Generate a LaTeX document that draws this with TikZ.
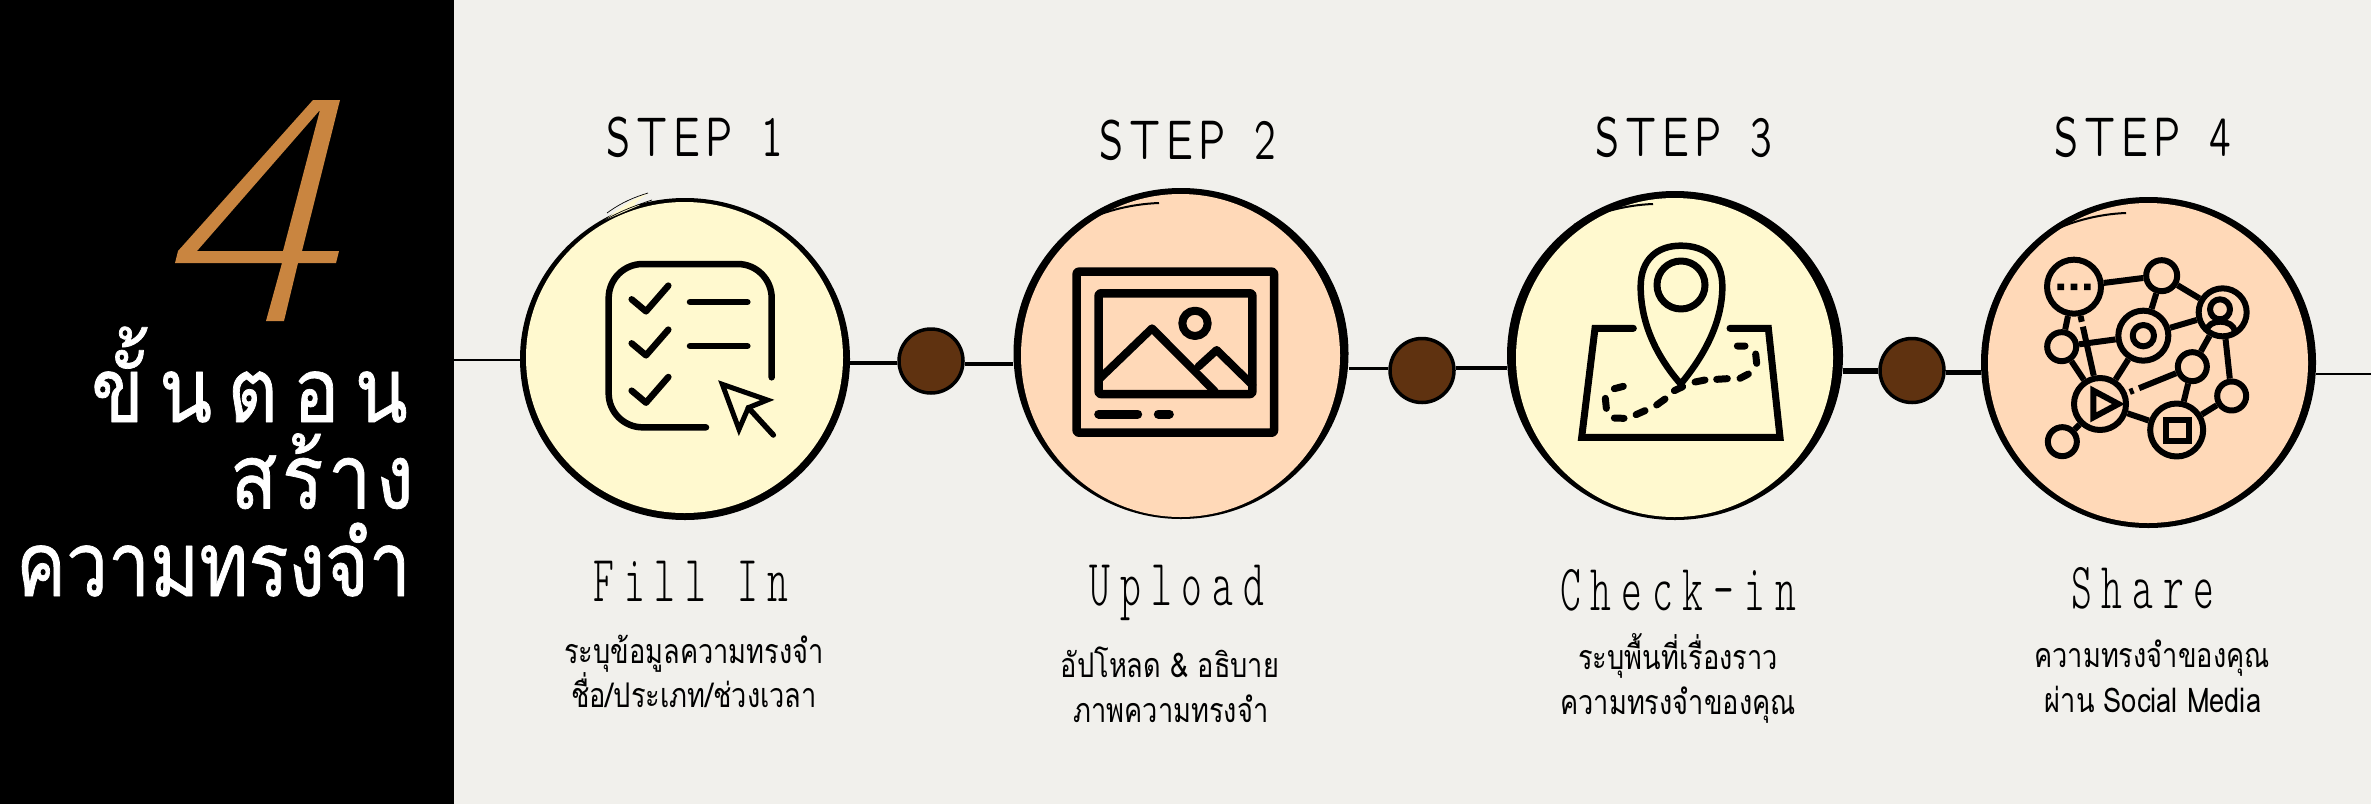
\documentclass[tikz,border=0pt]{standalone}
\usepackage{fontspec}
\usetikzlibrary{positioning,shapes.geometric}
\setmainfont{Liberation Sans}
\newfontfamily\thaifont[Script=Thai,FakeStretch=0.8]{Loma}
\newfontfamily\headfont[Script=Thai,FakeStretch=0.83,FakeBold=0.8]{Loma}
\newfontfamily\headmid[Script=Thai,FakeStretch=0.86,LetterSpace=5,FakeBold=0.8]{Loma}
\newfontfamily\headwide[Script=Thai,FakeStretch=0.86,LetterSpace=17,FakeBold=0.8]{Loma}
\newfontfamily\namefont[FakeStretch=0.6,LetterSpace=15]{lmmonolt10-regular.otf}
\newfontfamily\stepfont[FakeStretch=0.62,LetterSpace=10,WordSpace=1.4]{lmsansquot8-regular.otf}
\definecolor{panelbg}{HTML}{F1F0EC}
\definecolor{fourc}{HTML}{C98540}
\definecolor{creamc}{HTML}{FFF9CF}
\definecolor{peachc}{HTML}{FFD9B8}
\definecolor{dotc}{HTML}{5F3210}
\tikzset{
	rimblob/.style={ellipse,fill=black,inner sep=0pt},
	stepdot/.style={circle,fill=dotc,draw=black,line width=3.5pt,inner sep=0pt,minimum size=64pt},
	steptitle/.style={anchor=base,inner sep=0pt,font=\fontsize{56}{56}\stepfont},
	stepname/.style={anchor=base,inner sep=0pt,font=\fontsize{66}{66}\namefont},
	stepnote/.style={anchor=base,inner sep=0pt,font=\fontsize{34}{34}\thaifont},
	headline/.style={anchor=base east,inner sep=0pt,text=white,font=\fontsize{90}{90}\headfont},
	icon/.style={line width=6.5pt,line cap=round,line join=round},
	netnode/.style={circle,draw=black,line width=6pt,inner sep=0pt},
}
\begin{document}
\begin{tikzpicture}[x=1pt,y=-1pt,line join=round]
	\useasboundingbox (0,0) rectangle (2371,804);
	\fill[panelbg] (0,0) rectangle (2371,804);
	\fill[black] (0,0) rectangle (454,804);
	% big four
	\fill[fourc,even odd rule] (313,100)--(178,251)--(175,263)--(282,263)--(266,321)--(284,321)--(298,263)--(336,263)--(339,251)--(302,251)--(340,100)--cycle
		(320,110)--(197,251)--(283,251)--cycle;
	\node[headline,font=\fontsize{90}{90}\headwide] (head1) at (408,422) {ขั้นตอน};
	\node[headline,font=\fontsize{90}{90}\headmid] (head2) at (414,508.5) {สร้าง};
	\node[headline] (head3) at (411,596) {ความทรงจำ};
	% rims and dots
	\node[rimblob,minimum width=330pt,minimum height=322pt] (rim1) at (685,359) {};
	\node[rimblob,minimum width=335pt,minimum height=331pt] (rim2) at (1181,353.5) {};
	\node[rimblob,minimum width=336pt,minimum height=329pt] (rim3) at (1675,355.5) {};
	\node[rimblob,minimum width=335pt,minimum height=331pt] (rim4) at (2148.5,362.5) {};
	\node[stepdot] (dot1) at (931,361) {};
	\node[stepdot] (dot2) at (1422,370.5) {};
	\node[stepdot] (dot3) at (1912,370.5) {};
	\coordinate (lineL) at (454,360);
	\coordinate (lineR) at (2371,374);
	\draw[line width=2pt] (lineL)--(lineL -| rim1.west);
	\coordinate (wire1) at (0,363);
	\coordinate (wire2) at (0,364);
	\coordinate (wire3) at (0,368);
	\coordinate (wire4) at (0,368);
	\coordinate (wire5) at (0,371);
	\coordinate (wire6) at (0,372);
	\draw[line width=3.5pt] (wire1 -| rim1.east)--(wire1 -| dot1.west);
	\draw[line width=3.5pt] (wire2 -| dot1.east)--(wire2 -| rim2.west);
	\draw[line width=3pt] (wire3 -| rim2.east)--(wire3 -| dot2.west);
	\draw[line width=4pt] (wire4 -| dot2.east)--(wire4 -| rim3.west);
	\draw[line width=5.5pt] (wire5 -| rim3.east)--(wire5 -| dot3.west);
	\draw[line width=5pt] (wire6 -| dot3.east)--(wire6 -| rim4.west);
	\draw[line width=2pt] (lineR -| rim4.east)--(lineR);
	% discs
	\node[ellipse,fill=creamc,inner sep=0pt,minimum width=317pt,minimum height=311pt] (disc1) at (684.5,357.5) {};
	\node[ellipse,fill=peachc,inner sep=0pt,minimum width=319pt,minimum height=323pt] (disc2) at (1180.5,355.5) {};
	\node[ellipse,fill=creamc,inner sep=0pt,minimum width=317pt,minimum height=319pt] (disc3) at (1674.5,357.5) {};
	\node[ellipse,fill=peachc,inner sep=0pt,minimum width=320pt,minimum height=320pt] (disc4) at (2148,363) {};
	% sketch strokes
	\fill[creamc] (605,220) .. controls (620,208) and (635,198) .. (648,193) .. controls (635,203) and (630,206) .. (640,205) -- cycle;
	\draw[line width=0.7pt] (605,220) .. controls (622,210) and (640,204) .. (652,200);
	\draw[line width=0.7pt] (607,213) .. controls (622,202) and (635,197) .. (648,193);
	\draw[line width=2pt] (1079,224) .. controls (1100,212) and (1130,204) .. (1159,203);
	\draw[line width=2pt] (1574,225) .. controls (1595,213) and (1625,205) .. (1653,204);
	\draw[line width=2pt] (2047,234) .. controls (2068,222) and (2098,214) .. (2126,213);
	% fill in icon
	\begin{scope}[shift={(500,170)},scale=1/3,icon]
		\draw[rounded corners=34pt] (815,622)--(815,282)--(326,282)--(326,772)--(618,772);
		\foreach \yy in {0,132,274}
			\draw (395,388+\yy)--(438,424+\yy)--(505,347+\yy);
		\draw (570,396)--(742,396);
		\draw (570,528)--(742,528);
		\draw[line join=miter,line width=5pt] (667,643)--(802,690)--(745,713)--(717,778)--cycle;
		\draw[line width=5.5pt] (745,713)--(820,795);
	\end{scope}
	% upload icon
	\begin{scope}[shift={(1000,170)},scale=1/3,icon,line width=8.5pt]
		\draw[rounded corners=2pt] (230,305) rectangle (822,788);
		\draw[rounded corners=2pt] (296,370) rectangle (757,672);
		\draw[line width=8pt] (585,460) circle (38);
		\draw[line width=8pt] (300,625)--(456,475)--(645,665);
		\draw[line width=8pt] (595,590)--(650,540)--(757,645);
		\draw[line width=9pt] (296,732)--(413,732);
		\draw[line width=9pt] (475,732)--(508,732);
	\end{scope}
	% check-in icon
	\begin{scope}[shift={(1490,200)},scale=1/3,icon]
		\draw (572,552) .. controls (500,470) and (452,370) .. (452,260) .. controls (452,180) and (500,137) .. (572,137) .. controls (650,137) and (697,180) .. (697,260) .. controls (697,370) and (640,470) .. (572,552);
		\draw[line width=7pt] (573,255) circle (72);
		\draw[line width=7pt,line join=miter] (430,385)--(315,385)--(275,712)--(870,712)--(835,385)--(720,385);
		\draw[line width=7pt] (742,438)--(765,438) (797,462)--(800,490) (750,535)--(775,522) (680,538)--(712,536) (615,546)--(645,540) (553,572)--(578,560) (500,615)--(525,597) (438,644)--(465,632) (373,654)--(402,655) (346,595)--(349,625) (373,566)--(400,559);
	\end{scope}
	% share icon
	\begin{scope}[shift={(1950,190)},scale=1/3]
		\node[netnode,minimum size=54pt] (netA) at (372,290) {};
		\node[netnode,minimum size=31pt] (netB) at (635,257) {};
		\node[netnode,minimum size=48pt] (netC) at (818,367) {};
		\node[netnode,minimum size=50pt] (netD) at (580,437) {};
		\node[netnode,minimum size=29pt] (netE) at (335,470) {};
		\node[netnode,minimum size=29pt] (netF) at (727,530) {};
		\node[netnode,minimum size=29pt] (netG) at (845,618) {};
		\node[netnode,minimum size=52pt] (netH) at (450,642) {};
		\node[netnode,minimum size=53pt] (netI) at (680,720) {};
		\node[netnode,minimum size=29pt] (netJ) at (337,755) {};
		\begin{scope}[line width=6pt]
			\draw (netA)--(netB);
			\draw (netB)--(netD);
			\draw (netB)--(netC);
			\draw (netD)--(netC);
			\draw (netD)--(netE);
			\draw (netA)--(netE);
			\draw (netD)--(netH);
			\draw (netE)--(netH);
			\draw (netH)--(netJ);
			\draw (netH)--(netI);
			\draw (netF)--(netI);
			\draw (netF)--(netC);
			\draw (netC)--(netG);
			\draw (netG)--(netI);
			\draw[dash pattern=on 6pt off 5pt on 60pt] (netA)--(netH);
			\draw[dash pattern=on 40pt off 6pt on 4pt off 6pt on 6pt] (netF)--(netH);
		\end{scope}
		\fill (322,281) rectangle (342,300) (362,281) rectangle (382,300) (402,281) rectangle (422,300);
		\draw[line width=6pt] (580,437) circle (32);
		\draw[line width=6pt] (810,358) circle (30);
		\draw[line width=6pt] (770,425) .. controls (770,385) and (850,385) .. (855,425);
		\draw[line width=6pt,line join=miter] (430,602)--(430,682)--(505,642)--cycle;
		\draw[line width=6pt,line join=miter] (648,690) rectangle (716,752);
	\end{scope}
	% labels
	\node[steptitle] (step1) at (695,156) {STEP 1};
	\node[steptitle] (step2) at (1188,159) {STEP 2};
	\node[steptitle] (step3) at (1684,156) {STEP 3};
	\node[steptitle] (step4) at (2143,156) {STEP 4};
	\node[stepname] (name1) at (691,601) {Fill In};
	\node[stepname] (name2) at (1177,605) {Upload};
	\node[stepname] (name3) at (1678,610) {Check-in};
	\node[stepname] (name4) at (2143,608) {Share};
	\node[stepnote] (note1a) at (694,663) {ระบุข้อมูลความทรงจำ};
	\node[stepnote] (note1b) at (694,707) {ชื่อ/ประเภท/ช่วงเวลา};
	\node[stepnote] (note2a) at (1170,677) {อัปโหลด \& อธิบาย};
	\node[stepnote] (note2b) at (1171,722) {ภาพความทรงจำ};
	\node[stepnote] (note3a) at (1678,669) {ระบุพื้นที่เรื่องราว};
	\node[stepnote] (note3b) at (1678,714) {ความทรงจำของคุณ};
	\node[stepnote] (note4a) at (2152,667) {ความทรงจำของคุณ};
	\node[stepnote] (note4b) at (2153,712) {ผ่าน Social Media};
\end{tikzpicture}
\end{document}
